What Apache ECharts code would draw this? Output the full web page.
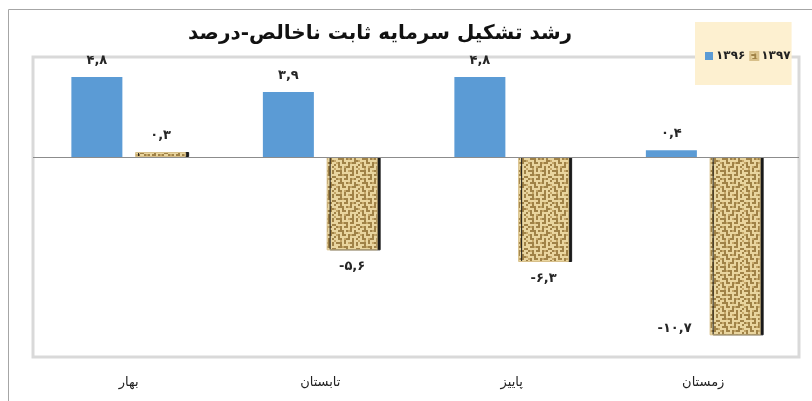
<!DOCTYPE html>
<html><head><meta charset="utf-8">
<script src="https://cdn.jsdelivr.net/npm/echarts@6/dist/echarts.min.js"></script>
<style>html,body{margin:0;padding:0;background:#fff}#c{width:812px;height:401px}</style>
</head><body><div id="c"></div>
<script>
const titleText = 'رشد تشکیل سرمایه ثابت ناخالص-درصد';
const categories = ['بهار', 'تابستان', 'پاییز', 'زمستان'];
const seriesNames = ['۱۳۹۶', '۱۳۹۷'];
const v1396 = [4.8, 3.9, 4.8, 0.4];
const v1397 = [0.3, -5.6, -6.3, -10.7];

function fa(v) {
  const d = '۰۱۲۳۴۵۶۷۸۹';
  const s = Math.abs(v).toFixed(1).replace(/\d/g, c => d[+c]).replace('.', ',');
  return (v < 0 ? '-' : '') + s;
}

function makePattern() {
  const rows = [
    'LLMLDLLLDLLM',
    'DDDLDLMDDLDL',
    'LLDLLLLLDLDL',
    'LDDMDDLDDLLL',
    'LLLLLDLLLLDD',
    'DMDLDDLDMDLL',
    'LLDLLLLDLLLD',
    'LDDDLDMDLDLL',
    'LLLDLLLLLDDM',
    'MDLDDLDMDDLL',
    'LDLLLLDLLLLD',
    'LDDLMDDLDLDL'
  ];
  const col = { L: '#e9d59f', D: '#a08247', M: '#c4a668' };
  const c = document.createElement('canvas');
  c.width = 24; c.height = 24;
  const g = c.getContext('2d');
  for (let y = 0; y < 12; y++) for (let x = 0; x < 12; x++) {
    g.fillStyle = col[rows[y][x]];
    g.fillRect(x * 2, y * 2, 2, 2);
  }
  return c;
}
const pattern = { image: makePattern(), repeat: 'repeat' };

const FONT = 'DejaVu Sans';
const labelBase = { show: true, formatter: p => fa(p.value), distance: 10, color: '#262626', fontSize: 13, fontWeight: 'bold', fontFamily: FONT };

function items(arr, seriesIdx) {
  return arr.map((v, i) => {
    const it = { value: v, label: { position: v >= 0 ? 'top' : 'bottom' } };
    if (seriesIdx === 1 && i === 3) {
      it.label = { position: [-18, '96%'], align: 'right', verticalAlign: 'middle' };
    }
    return it;
  });
}

const chart = echarts.init(document.getElementById('c'), null, { renderer: 'canvas' });
chart.setOption({
  backgroundColor: '#fff',
  animation: false,
  title: {
    text: titleText, left: 183, top: 19,
    textStyle: { fontFamily: FONT, fontSize: 20, fontWeight: 'bold', color: '#111' }
  },
  legend: {
    data: seriesNames, left: 695, top: 22,
    padding: [28, 1, 23, 10],
    backgroundColor: '#fdf0d0',
    icon: 'rect',
    itemWidth: 8, itemHeight: 8, itemGap: 4,
    textStyle: { fontFamily: FONT, fontSize: 12, fontWeight: 'bold', color: '#222', padding: [0, 0, 0, -2] }
  },
  graphic: [{
    type: 'rect', silent: true, z: -10,
    shape: { x: 8.5, y: 9.5, width: 1000, height: 1000 },
    style: { fill: 'none', stroke: '#a6a6a6', lineWidth: 1 }
  }],
  grid: { left: 33, right: 13, top: 57, bottom: 44, show: true, borderColor: '#d9d9d9', borderWidth: 3, containLabel: false },
  xAxis: {
    type: 'category', data: categories,
    axisLine: { show: false }, axisTick: { show: false },
    axisLabel: { margin: 19, color: '#222', fontSize: 13, fontFamily: FONT }
  },
  yAxis: { type: 'value', min: -12, max: 6, show: false, splitLine: { show: false } },
  series: [
    {
      name: seriesNames[0], type: 'bar', barWidth: 51, barGap: '25%',
      data: items(v1396, 0),
      itemStyle: { color: '#5b9bd5' },
      label: labelBase,
      markLine: {
        silent: true, symbol: 'none', label: { show: false },
        lineStyle: { color: '#8c8c8c', width: 1, type: 'solid' },
        data: [{ yAxis: 0 }]
      }
    },
    {
      name: seriesNames[1], type: 'bar', barWidth: 51, barGap: '25%',
      data: items(v1397, 1),
      itemStyle: { color: pattern, borderColor: '#d8c08a', borderWidth: 1, shadowColor: '#1a1a1a', shadowOffsetX: 3, shadowBlur: 0 },
      label: labelBase
    }
  ]
});
</script>
</body></html>
